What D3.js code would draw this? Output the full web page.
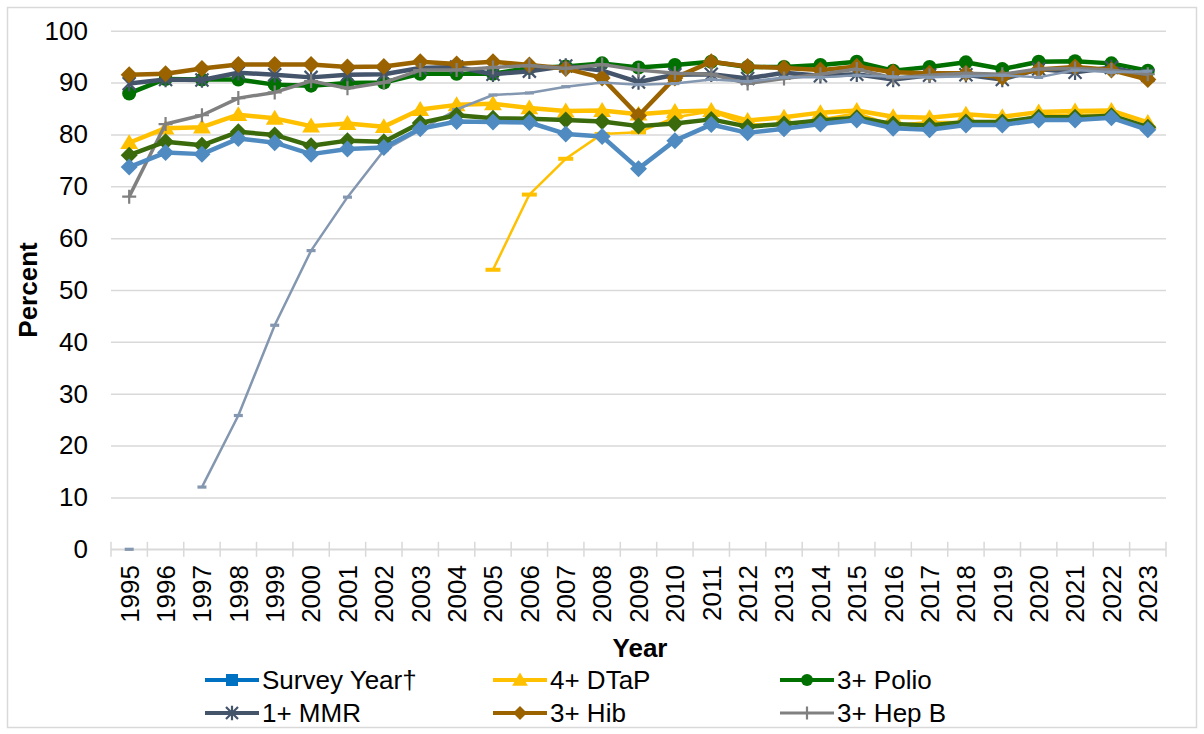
<!DOCTYPE html>
<html>
<head>
<meta charset="utf-8">
<script src="https://cdn.jsdelivr.net/npm/d3@7"></script>
<style>
  body { margin: 0; background: #fff; }
  text { font-family: Arial, "Liberation Sans", sans-serif; fill: #000; }
</style>
</head>
<body>
<svg id="chart" width="1204" height="734"></svg>
<script>
'use strict';

var years = d3.range(1995, 2024).map(String)
,   yTicks = [0, 10, 20, 30, 40, 50, 60, 70, 80, 90, 100]

// values, 1995..2023 (null = not reported)
var dtap = [78.4, 81.2, 81.4, 83.8, 83.1, 81.6, 82.1, 81.5, 84.8, 85.7, 85.9, 85.1, 84.5, 84.6, 83.9, 84.4, 84.6, 82.7, 83.3, 84.2, 84.6, 83.4, 83.2, 83.9, 83.4, 84.3, 84.5, 84.6, 82.3]
,   polio = [87.9, 90.7, 90.6, 90.6, 89.6, 89.4, 89.9, 90.0, 91.7, 91.7, 91.7, 92.8, 93.1, 93.7, 92.9, 93.4, 94.0, 93.0, 93.0, 93.4, 94.0, 92.3, 93.0, 93.9, 92.6, 94.0, 94.1, 93.7, 92.3]
,   mmr = [89.8, 90.6, 90.5, 91.9, 91.5, 91.0, 91.5, 91.6, 92.8, 93.0, 91.6, 92.2, 93.2, 92.3, 90.1, 91.5, 91.6, 90.8, 91.9, 91.3, 91.6, 90.6, 91.4, 91.5, 90.6, 92.6, 92.0, 92.9, 91.4]
,   hib = [91.5, 91.7, 92.7, 93.5, 93.5, 93.5, 93.0, 93.1, 94.0, 93.6, 94.0, 93.4, 92.7, 90.9, 83.6, 90.9, 94.0, 93.1, 92.8, 92.4, 93.1, 92.0, 91.8, 91.8, 91.0, 92.5, 93.0, 92.4, 90.6]
,   hepB = [68.0, 82.0, 83.7, 87.0, 88.1, 90.3, 88.9, 90.0, 92.4, 92.4, 92.9, 93.3, 92.7, 93.5, 92.4, 91.8, 91.6, 89.8, 90.8, 91.6, 92.6, 90.9, 91.4, 91.8, 91.6, 92.6, 92.7, 92.4, 91.6]
,   varicella = [0, null, 12.0, 25.8, 43.2, 57.6, 67.9, 76.9, 80.8, 84.8, 87.6, 88.0, 89.2, 90.0, 89.6, 89.8, 90.6, 90.2, 91.0, 91.0, 91.4, 91.1, 91.0, 91.2, 91.4, 91.0, 92.4, 92.0, 92.2]
,   pcv = [null, null, null, null, null, null, null, null, null, null, 53.9, 68.4, 75.3, 80.1, 80.4, 83.3, 84.4, 81.9, 82.0, 82.9, 84.1, 81.8, 82.4, 82.4, 82.0, 83.7, 83.8, 83.9, 81.4]
,   series431 = [76.0, 78.6, 77.9, 80.5, 79.9, 77.8, 78.8, 78.6, 82.2, 83.7, 83.1, 83.0, 82.8, 82.5, 81.6, 82.1, 82.9, 81.5, 82.0, 82.7, 83.2, 82.0, 81.7, 82.4, 82.4, 83.3, 83.3, 83.6, 81.4]
,   series4313 = [73.7, 76.5, 76.2, 79.2, 78.4, 76.2, 77.2, 77.5, 81.1, 82.5, 82.4, 82.3, 80.1, 79.6, 73.4, 78.8, 81.9, 80.3, 81.1, 82.0, 82.8, 81.2, 80.9, 81.8, 81.8, 82.8, 82.8, 83.2, 80.9]

var legendNames = ['Survey Year\u2020', '4+ DTaP', '3+ Polio', '1+ MMR', '3+ Hib', '3+ Hep B']

var svg = d3.select('#chart')
,   plotLeft = 111
,   plotRight = 1166
,   plotTop = 30.7
,   plotBottom = 549.3

var x = d3.scaleBand().domain(years).range([plotLeft, plotRight])
,   y = d3.scaleLinear().domain([0, 100]).range([plotBottom, plotTop])
,   cx = (yr) => x(yr) + x.bandwidth() / 2

// marker shapes
var shapes = {
  diamond: (r) => `M0,${-r}L${r},0L0,${r}L${-r},0Z`
, triangle: (r) => `M0,${-r}L${r * 1.05},${r * 0.75}L${-r * 1.05},${r * 0.75}Z`
, circle: (r) => `M${r},0A${r},${r} 0 1,1 ${-r},0A${r},${r} 0 1,1 ${r},0Z`
, square: (r) => `M${-r},${-r}H${r}V${r}H${-r}Z`
, asterisk: (r) => `M${-r},${-r}L${r},${r}M${-r},${r}L${r},${-r}M0,${-r * 1.2}V${r * 1.2}`
, plus: (r) => `M${-r},0H${r}M0,${-r}V${r}`
, dash: (r) => `M${-r},-2H${r}V2H${-r}Z`
, smalldash: (r) => `M${-r},-1.6H${r}V1.6H${-r}Z`
}
,   strokeOnly = { asterisk: true, plus: true }

// drawing order follows the picture: later series sit on top
var seriesList = [
  { values: dtap, color: '#FFC000', width: 4.5, marker: 'triangle', r: 8.5 }
, { values: polio, color: '#007000', width: 4.5, marker: 'circle', r: 7 }
, { values: mmr, color: '#44546A', width: 4.5, marker: 'asterisk', r: 6.5 }
, { values: hib, color: '#9A6300', width: 4.5, marker: 'diamond', r: 8.5 }
, { values: hepB, color: '#808080', width: 3.5, marker: 'plus', r: 7 }
, { values: varicella, color: '#8497B0', width: 2.5, marker: 'smalldash', r: 4.5 }
, { values: pcv, color: '#FFC000', width: 2.5, marker: 'dash', r: 7.5 }
, { values: series431, color: '#3A6A0C', width: 4.5, marker: 'diamond', r: 8.5 }
, { values: series4313, color: '#4F8BC1', width: 4.5, marker: 'diamond', r: 8.5 }
]

var legendStyles = [
  { color: '#0070C0', width: 4, marker: 'square', r: 6 }
, { color: '#FFC000', width: 4, marker: 'triangle', r: 7.5 }
, { color: '#007000', width: 4, marker: 'circle', r: 6 }
, { color: '#44546A', width: 4, marker: 'asterisk', r: 6 }
, { color: '#9A6300', width: 4, marker: 'diamond', r: 7 }
, { color: '#808080', width: 3, marker: 'plus', r: 6.5 }
]

function drawMarker(sel, s) {
  sel.attr('d', shapes[s.marker](s.r))
  if (strokeOnly[s.marker]) {
    sel.attr('fill', 'none').attr('stroke', s.color).attr('stroke-width', 2.2)
  } else {
    sel.attr('fill', s.color).attr('stroke', 'none')
  }
}

// outer frame
svg.append('rect')
  .attr('x', 7.5).attr('y', 7.5)
  .attr('width', 1189).attr('height', 720)
  .attr('fill', '#fff')
  .attr('stroke', '#D9D9D9')
  .attr('stroke-width', 1.5)

// gridlines + y labels
var yAxis = svg.append('g')
  .attr('transform', 'translate(' + plotLeft + ',0)')
  .call(d3.axisLeft(y).tickValues(yTicks).tickSize(-(plotRight - plotLeft)).tickPadding(23))

yAxis.select('.domain').remove()
yAxis.selectAll('.tick line').attr('stroke', '#D9D9D9').attr('stroke-width', 1.5)
yAxis.selectAll('.tick text')
  .attr('font-size', 26)
  .attr('font-family', 'Arial, "Liberation Sans", sans-serif')
  .attr('fill', '#000')

// category axis: line, boundary ticks, rotated labels
var xAxis = svg.append('g')

xAxis.append('line')
  .attr('x1', plotLeft).attr('x2', plotRight)
  .attr('y1', plotBottom).attr('y2', plotBottom)
  .attr('stroke', '#D9D9D9').attr('stroke-width', 1.5)

xAxis.selectAll('.bound')
  .data(years.map((yr) => x(yr)).concat([plotRight]))
  .enter().append('line')
  .attr('class', 'bound')
  .attr('x1', (d) => d).attr('x2', (d) => d)
  .attr('y1', plotBottom - 7.5).attr('y2', plotBottom + 7.5)
  .attr('stroke', '#D9D9D9').attr('stroke-width', 1.5)

xAxis.selectAll('.yearLabel')
  .data(years)
  .enter().append('text')
  .attr('class', 'yearLabel')
  .attr('transform', (d) => 'translate(' + cx(d) + ',565) rotate(-90)')
  .attr('text-anchor', 'end')
  .attr('dy', '0.36em')
  .attr('font-size', 26)
  .text((d) => d)

// axis titles
svg.append('text')
  .attr('x', 640).attr('y', 657)
  .attr('text-anchor', 'middle')
  .attr('font-size', 26).attr('font-weight', 'bold')
  .text('Year')

svg.append('text')
  .attr('transform', 'translate(37,290) rotate(-90)')
  .attr('text-anchor', 'middle')
  .attr('font-size', 26).attr('font-weight', 'bold')
  .text('Percent')

// series
var line = d3.line()
  .defined((d) => d != null)
  .x((d, i) => cx(years[i]))
  .y((d) => y(d))

var plot = svg.append('g')

seriesList.forEach((s) => {
  var g = plot.append('g')

  g.append('path')
    .attr('d', line(s.values))
    .attr('fill', 'none')
    .attr('stroke', s.color)
    .attr('stroke-width', s.width)
    .attr('stroke-linejoin', 'round')

  g.selectAll('.marker')
    .data(s.values.map((v, i) => ({ v: v, yr: years[i] })).filter((d) => d.v != null))
    .enter().append('path')
    .attr('class', 'marker')
    .attr('transform', (d) => 'translate(' + cx(d.yr) + ',' + y(d.v) + ')')
    .call(drawMarker, s)
})

// legend
var legendCols = [205, 493, 780]
,   legendRows = [680, 713]

var legendItems = svg.append('g').selectAll('.legendItem')
  .data(legendNames)
  .enter().append('g')
  .attr('class', 'legendItem')
  .attr('transform', (d, i) => 'translate(' + legendCols[i % 3] + ',' + legendRows[Math.floor(i / 3)] + ')')

legendItems.each(function(name, i) {
  var g = d3.select(this)
  ,   s = legendStyles[i]

  g.append('line')
    .attr('x1', 0).attr('x2', 54)
    .attr('stroke', s.color)
    .attr('stroke-width', s.width)

  g.append('path')
    .attr('transform', 'translate(27,0)')
    .call(drawMarker, s)

  g.append('text')
    .attr('x', 57)
    .attr('dy', '0.36em')
    .attr('font-size', 26)
    .text(name)
})
</script>
</body>
</html>
